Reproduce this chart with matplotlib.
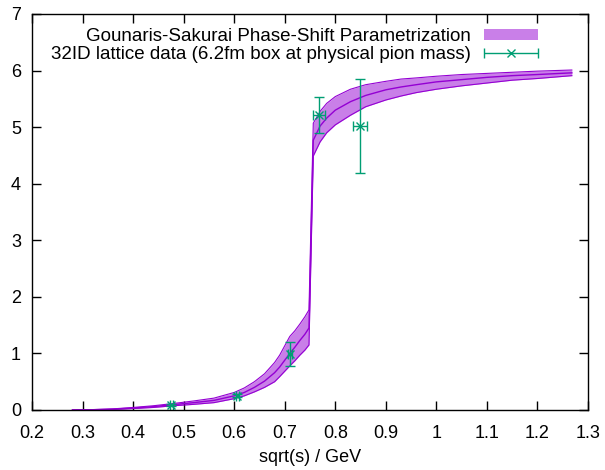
import numpy as np
import matplotlib
matplotlib.use("Agg")
import matplotlib.pyplot as plt
from matplotlib.patches import Patch
from matplotlib.legend_handler import HandlerErrorbar

plt.rcParams['font.family'] = ['Liberation Sans', 'DejaVu Sans']
plt.rcParams['font.size'] = 13

# Gounaris-Sakurai band
gs_x = [0.28, 0.32, 0.36, 0.40, 0.44, 0.48, 0.52, 0.56, 0.60, 0.62, 0.64, 0.66, 0.68,
        0.69, 0.71, 0.72, 0.73, 0.74, 0.748, 0.7565, 0.77, 0.783, 0.80, 0.83, 0.86,
        0.90, 0.93, 0.96, 1.00, 1.05, 1.10, 1.15, 1.20, 1.268]
gs_mid = [0.0, 0.005, 0.015, 0.035, 0.06, 0.095, 0.13, 0.17, 0.25, 0.31, 0.40, 0.51, 0.66,
          0.76, 1.00, 1.11, 1.23, 1.34, 1.45, 4.77, 5.02, 5.16, 5.30, 5.45, 5.56,
          5.66, 5.71, 5.75, 5.80, 5.84, 5.88, 5.91, 5.93, 5.96]
gs_lo = [0.0, 0.003, 0.01, 0.025, 0.045, 0.075, 0.10, 0.13, 0.20, 0.25, 0.32, 0.40, 0.50,
         0.59, 0.78, 0.87, 0.97, 1.06, 1.15, 4.49, 4.74, 4.90, 5.04, 5.21, 5.36,
         5.48, 5.55, 5.61, 5.67, 5.73, 5.78, 5.83, 5.86, 5.91]
gs_hi = [0.0, 0.007, 0.02, 0.045, 0.075, 0.115, 0.16, 0.21, 0.31, 0.39, 0.50, 0.64, 0.84,
         0.97, 1.30, 1.40, 1.52, 1.65, 1.77, 5.07, 5.28, 5.42, 5.54, 5.67, 5.75,
         5.81, 5.85, 5.87, 5.90, 5.93, 5.95, 5.97, 5.99, 6.01]

# 32ID lattice data
lat_x = [0.4756, 0.606, 0.710, 0.768, 0.8495]
lat_y = [0.088, 0.253, 0.99, 5.21, 5.024]
lat_xerr = [0.003, 0.003, 0.004, 0.0125, 0.014]
lat_yerr = [0.02, 0.03, 0.21, 0.32, 0.83]

purple = '#9400d3'
green = '#009e73'

fig = plt.figure(figsize=(6.05, 4.70), dpi=100)
ax = fig.add_axes([32/605, 1-410/470, 556/605, 396/470])

ax.fill_between(gs_x, gs_lo, gs_hi, color=purple, alpha=0.5, linewidth=0)
ax.plot(gs_x, gs_lo, color=purple, lw=0.8)
ax.plot(gs_x, gs_hi, color=purple, lw=0.8)
ax.plot(gs_x, gs_mid, color=purple, lw=1.0)

ax.errorbar(lat_x, lat_y, xerr=lat_xerr, yerr=lat_yerr, fmt='x', color=green,
            ms=6, mew=1.0, elinewidth=1.0, capsize=3.5, capthick=1.0)

ax.set_xlim(0.2, 1.3)
ax.set_ylim(0, 7)
ax.set_xticks(np.arange(0.2, 1.31, 0.1))
ax.set_xticklabels(['0.2', '0.3', '0.4', '0.5', '0.6', '0.7', '0.8', '0.9', '1',
                    '1.1', '1.2', '1.3'])
ax.set_yticks(range(8))
ax.tick_params(direction='in', length=6.5, width=1, top=True, right=True)
ax.tick_params(axis='x', pad=11)
ax.tick_params(axis='y', pad=8)
for s in ax.spines.values():
    s.set_linewidth(1.0)
ax.set_xlabel('sqrt(s) / GeV', labelpad=5)

band = Patch(facecolor=purple, alpha=0.5, edgecolor='none')
proxy = ax.errorbar([np.nan], [np.nan], xerr=[1], fmt='x', color=green, ms=6,
                    mew=1.0, elinewidth=1.0, capsize=3.5, capthick=1.0)
ax.legend([band, proxy],
          ['Gounaris-Sakurai Phase-Shift Parametrization',
           '32ID lattice data (6.2fm box at physical pion mass)'],
          handler_map={proxy: HandlerErrorbar(xerr_size=1.45)},
          loc='upper right', bbox_to_anchor=(0.91, 0.965), fontsize=13.5,
          frameon=False, markerfirst=False,
          handlelength=2.9, handleheight=0.55, labelspacing=0.05,
          handletextpad=0.7, borderaxespad=0, borderpad=0)

fig.savefig('out.png', dpi=100)
